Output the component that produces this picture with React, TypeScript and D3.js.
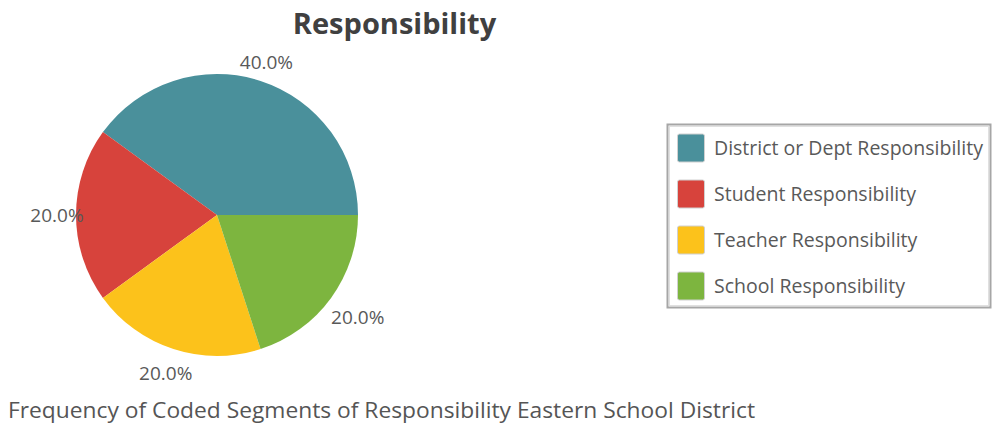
import React from "react";
import * as d3 from "d3";

const categories = [
  "District or Dept Responsibility",
  "Student Responsibility",
  "Teacher Responsibility",
  "School Responsibility",
];
const values = [40, 20, 20, 20];
const colors = ["#4A909B", "#D7433C", "#FCC21B", "#7DB53F"];
const title = "Responsibility";
const caption = "Frequency of Coded Segments of Responsibility Eastern School District";

const W = 992;
const H = 428;
const FONT = "'Open Sans', 'Noto Sans', sans-serif";

export default function App() {
  const cx = 217;
  const cy = 215;
  const r = 141;
  const total = d3.sum(values);
  const pie = d3
    .pie<number>()
    .sort(null)
    .value((d) => d)
    .startAngle(Math.PI / 2)
    .endAngle(Math.PI / 2 - 2 * Math.PI);
  const arcs = pie(values);
  const arc = d3.arc<d3.PieArcDatum<number>>().innerRadius(0).outerRadius(r);
  const fmt = d3.format(".1%");

  const labelR = 166;

  const legendY = d3.scaleBand<string>().domain(categories).range([125, 309]).paddingInner(0).paddingOuter(0);

  return (
    <svg width={W} height={H} style={{ position: "absolute", left: 0, top: 0 }}>
      <rect width={W} height={H} fill="#fff" />
      <text x={394.5} y={34} textAnchor="middle" fontFamily={FONT} fontWeight="bold" fontSize={29} fill="#404040">
        {title}
      </text>
      <g transform={`translate(${cx},${cy})`}>
        {arcs.map((a, i) => (
          <path key={i} d={arc(a) || ""} fill={colors[i]} />
        ))}
        {arcs.map((a, i) => {
          const mid = (a.startAngle + a.endAngle) / 2;
          const dx = Math.sin(mid);
          const dy = -Math.cos(mid);
          const rr = dy < 0 ? labelR - 6 : dx > 0.3 ? labelR + 8 : labelR;
          return (
            <text
              key={"l" + i}
              x={rr * dx}
              y={rr * dy}
              dy="0.35em"
              textAnchor="middle"
              fontFamily={FONT}
              fontSize={19}
              fill="#595959"
            >
              {fmt(a.data / total)}
            </text>
          );
        })}
      </g>
      <rect x={667.5} y={124.5} width={323} height={183} fill="#fff" stroke="#a6a6a6" strokeWidth={2} />
      <rect x={669.5} y={126.5} width={319} height={179} fill="none" stroke="#e0e0e0" strokeWidth={1} />
      {categories.map((c, i) => {
        const yc = (legendY(c) as number) + legendY.bandwidth() / 2;
        return (
          <g key={c}>
            <rect x={677.5} y={yc - 14} width={27} height={28} rx={2} fill={colors[i]} stroke="#d0d0d0" strokeWidth={1} />
            <text x={714} y={yc} dy="0.35em" fontFamily={FONT} fontSize={19.5} fill="#595959">
              {c}
            </text>
          </g>
        );
      })}
      <text x={8} y={418} fontFamily={FONT} fontSize={22} fill="#555555" textLength={747} lengthAdjust="spacingAndGlyphs">
        {caption}
      </text>
    </svg>
  );
}
